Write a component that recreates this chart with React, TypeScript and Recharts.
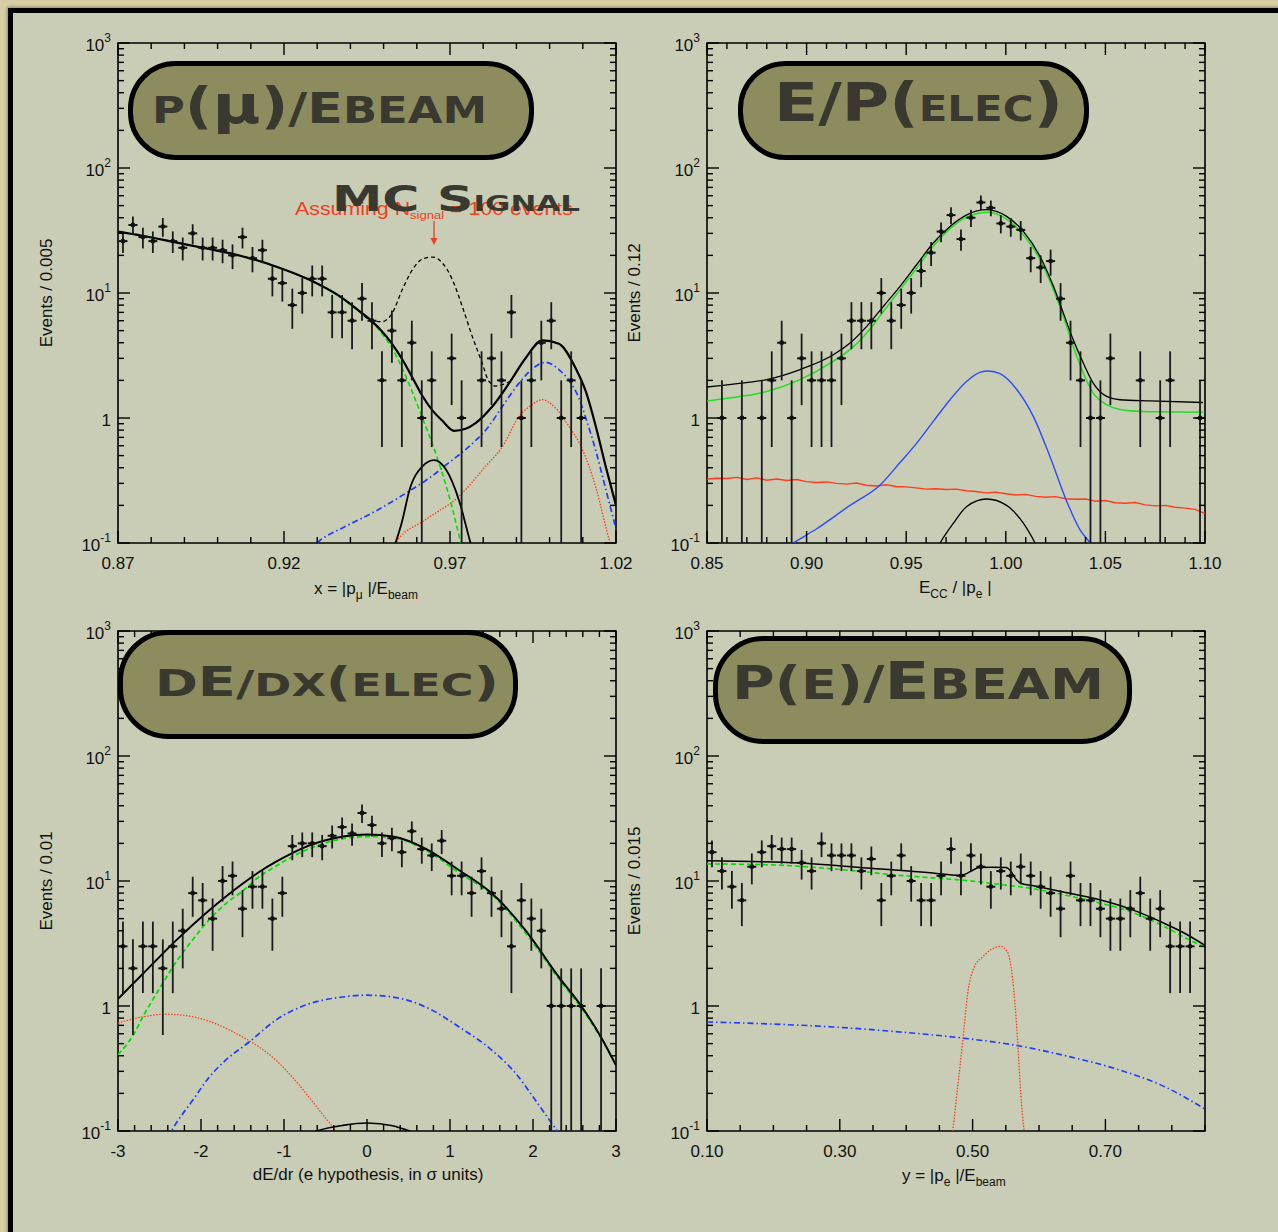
import React from 'react';
import { ComposedChart, Line, Scatter, ErrorBar, XAxis, YAxis, ReferenceArea } from 'recharts';

type Pt = [number, number];

// ---------- p(mu)/Ebeam ----------
const muRange = [0.87, 1.02];
const muCounts = [26, 35, 28, 26, 34, 26, 23, 30, 23, 23, 22, 20, 28, 19, 22, 13, 12, 8, 10, 13, 13, 7, 7, 6, 9, 6, 2, 5, 2, 4, 1, 2, 0, 3, 1, 0, 2, 3, 2, 7, 1, 2, 4, 6, 1, 2, 1, 0, 0, 0];
const muTotal: Pt[] = [[0.87, 31], [0.8773, 28.7], [0.8874, 25.4], [0.8974, 22.5], [0.9074, 19.7], [0.9175, 16.3], [0.9275, 12.8], [0.9376, 9.1], [0.9426, 7.2], [0.9466, 5.9], [0.9496, 4.9], [0.9526, 3.9], [0.9556, 2.95], [0.9587, 2.1], [0.9617, 1.5], [0.9647, 1.15], [0.9677, 0.95], [0.9712, 0.79], [0.9747, 0.82], [0.9777, 0.91], [0.9828, 1.24], [0.9878, 1.9], [0.9928, 3.02], [0.9978, 4.18], [1.0028, 3.93], [1.0078, 2.51], [1.0109, 1.63], [1.0139, 0.86], [1.0169, 0.41], [1.02, 0.2]];
const muWithMcSignal: Pt[] = [[0.9426, 7.2], [0.9466, 6.0], [0.9496, 5.9], [0.9526, 6.9], [0.9556, 10.6], [0.9587, 15.4], [0.9617, 18.7], [0.9647, 19.4], [0.9677, 17.4], [0.9707, 12.8], [0.9737, 7.8], [0.9767, 4.5], [0.9797, 2.75], [0.9817, 1.97], [0.9838, 1.8], [0.9858, 1.85], [0.9878, 1.95]];
const muGreen: Pt[] = [[0.87, 31], [0.8773, 28.7], [0.8874, 25.4], [0.8974, 22.5], [0.9074, 19.7], [0.9175, 16.3], [0.9275, 12.8], [0.9376, 9.0], [0.9426, 7.1], [0.9466, 5.8], [0.9496, 4.7], [0.9526, 3.6], [0.9556, 2.5], [0.9587, 1.6], [0.9617, 1.0], [0.9647, 0.62], [0.9677, 0.36], [0.9707, 0.19], [0.9727, 0.115], [0.9745, 0.075]];
const muBlue: Pt[] = [[0.927, 0.085], [0.931, 0.106], [0.9376, 0.132], [0.9476, 0.18], [0.9577, 0.26], [0.9637, 0.33], [0.9697, 0.44], [0.9757, 0.59], [0.9817, 0.86], [0.9858, 1.24], [0.9908, 1.9], [0.9958, 2.59], [0.9988, 2.79], [1.0028, 2.44], [1.0058, 2.0], [1.0088, 1.45], [1.0109, 1.0], [1.0139, 0.55], [1.0169, 0.27], [1.02, 0.13]];
const muRed: Pt[] = [[0.952, 0.085], [0.9536, 0.1], [0.9627, 0.154], [0.9727, 0.236], [0.9807, 0.41], [0.9858, 0.59], [0.9908, 1.03], [0.9948, 1.28], [0.9978, 1.4], [1.0018, 1.2], [1.0058, 0.86], [1.0099, 0.56], [1.0139, 0.28], [1.0179, 0.107], [1.019, 0.085]];
const muSignalFit: Pt[] = [[0.953, 0.09], [0.9556, 0.15], [0.9577, 0.26], [0.9617, 0.41], [0.9652, 0.46], [0.9687, 0.39], [0.9727, 0.22], [0.9762, 0.1], [0.977, 0.085]];
const muXMajor = [0.87, 0.92, 0.97, 1.02];
const muXLabels = ['0.87', '0.92', '0.97', '1.02'];

// ---------- E/p(elec) ----------
const epRange = [0.85, 1.1];
const epCounts = [0, 1, 0, 1, 0, 1, 2, 4, 1, 3, 2, 2, 2, 3, 6, 6, 6, 10, 6, 8, 10, 15, 21, 31, 42, 27, 40, 53, 48, 36, 34, 32, 19, 16, 18, 9, 4, 2, 1, 1, 3, 0, 0, 2, 0, 1, 2, 0, 0, 1];
const epTotal: Pt[] = [[0.85, 1.77], [0.8674, 1.9], [0.88, 2.03], [0.8967, 2.44], [0.9134, 3.21], [0.9218, 3.98], [0.9302, 5.41], [0.9385, 7.8], [0.9469, 11.3], [0.9553, 16.9], [0.9636, 25.1], [0.972, 34.1], [0.9804, 42.2], [0.9904, 46.4], [1.0004, 41], [1.0088, 31.1], [1.0172, 19.6], [1.0239, 11.3], [1.0289, 6.9], [1.0339, 4.2], [1.0389, 2.75], [1.0439, 1.9], [1.0506, 1.49], [1.0573, 1.4], [1.0724, 1.37], [1.099, 1.33]];
const epGreen: Pt[] = [[0.85, 1.37], [0.8674, 1.49], [0.88, 1.63], [0.8967, 2.03], [0.9134, 2.84], [0.9218, 3.52], [0.9302, 4.79], [0.9385, 7.1], [0.9469, 10.6], [0.9553, 15.8], [0.9636, 23.6], [0.972, 32.7], [0.9804, 40.5], [0.9912, 44.3], [1.0004, 39], [1.0088, 29.2], [1.0172, 18.5], [1.0239, 10.6], [1.0289, 6.5], [1.0339, 3.74], [1.0389, 2.29], [1.0439, 1.58], [1.0506, 1.28], [1.0573, 1.17], [1.0724, 1.12], [1.099, 1.11]];
const epBlue: Pt[] = [[0.888, 0.088], [0.8933, 0.1], [0.9051, 0.13], [0.9218, 0.2], [0.9368, 0.29], [0.9469, 0.44], [0.9553, 0.63], [0.9636, 0.94], [0.972, 1.4], [0.9804, 1.97], [0.987, 2.32], [0.9912, 2.38], [0.9971, 2.26], [1.0055, 1.69], [1.0138, 1.03], [1.0222, 0.49], [1.0306, 0.215], [1.0372, 0.128], [1.0423, 0.1], [1.045, 0.085]];
const epSignalFit: Pt[] = [[0.965, 0.088], [0.967, 0.1], [0.9737, 0.144], [0.9804, 0.196], [0.9904, 0.225], [1.0004, 0.2], [1.0088, 0.144], [1.0147, 0.1], [1.0165, 0.088]];
const epRed: Pt[] = [[0.85, 0.325], [0.855, 0.33], [0.86, 0.328], [0.865, 0.335], [0.87, 0.322], [0.875, 0.332], [0.88, 0.318], [0.885, 0.325], [0.89, 0.316], [0.895, 0.322], [0.9, 0.31], [0.905, 0.305], [0.91, 0.308], [0.915, 0.3], [0.92, 0.296], [0.925, 0.302], [0.93, 0.29], [0.935, 0.286], [0.94, 0.292], [0.945, 0.283], [0.95, 0.281], [0.955, 0.276], [0.96, 0.27], [0.965, 0.272], [0.97, 0.268], [0.975, 0.27], [0.98, 0.262], [0.985, 0.258], [0.99, 0.252], [0.995, 0.255], [1.0, 0.248], [1.005, 0.242], [1.01, 0.245], [1.015, 0.236], [1.02, 0.232], [1.025, 0.235], [1.03, 0.226], [1.035, 0.224], [1.04, 0.225], [1.045, 0.216], [1.05, 0.219], [1.055, 0.21], [1.06, 0.208], [1.065, 0.211], [1.07, 0.202], [1.075, 0.198], [1.08, 0.2], [1.085, 0.193], [1.09, 0.19], [1.095, 0.186], [1.1, 0.172]];
const epXMajor = [0.85, 0.9, 0.95, 1.0, 1.05, 1.1];
const epXLabels = ['0.85', '0.90', '0.95', '1.00', '1.05', '1.10'];

// ---------- dE/dx(elec) ----------
const dedxRange = [-3, 3];
const dedxCounts = [3, 2, 3, 3, 2, 3, 4, 8, 7, 5, 10, 11, 6, 9, 9, 5, 8, 19, 20, 20, 19, 23, 27, 24, 35, 28, 20, 22, 17, 25, 18, 16, 21, 11, 11, 8, 12, 8, 6, 3, 7, 5, 4, 1, 1, 1, 1, 0, 1, 0];
const dedxTotal: Pt[] = [[-3, 1.14], [-2.7, 1.81], [-2.3, 3.35], [-1.9, 5.83], [-1.5, 9.5], [-1.3, 11.8], [-1.1, 14.2], [-0.7, 19.2], [-0.29, 22.7], [0, 23.6], [0.31, 22.7], [0.71, 18.1], [1.11, 12.2], [1.51, 7.9], [1.91, 4.03], [2.31, 1.71], [2.59, 0.98], [2.83, 0.548], [3, 0.335]];
const dedxGreen: Pt[] = [[-3, 0.41], [-2.82, 0.58], [-2.7, 0.82], [-2.5, 1.38], [-2.3, 2.25], [-2.1, 3.39], [-1.9, 4.9], [-1.7, 6.6], [-1.5, 8.3], [-1.3, 10.8], [-1.1, 13.1], [-0.7, 18.1], [-0.29, 21.8], [0.03, 22.7], [0.31, 22.2], [0.71, 17.6], [1.11, 11.6], [1.51, 7.7], [1.91, 3.84], [2.31, 1.65], [2.59, 0.95], [2.83, 0.54], [3, 0.345]];
const dedxRed: Pt[] = [[-3, 0.73], [-2.7, 0.82], [-2.42, 0.86], [-2.1, 0.82], [-1.82, 0.72], [-1.5, 0.565], [-1.3, 0.47], [-1.1, 0.37], [-0.9, 0.27], [-0.7, 0.187], [-0.54, 0.137], [-0.38, 0.1], [-0.3, 0.082]];
const dedxBlue: Pt[] = [[-2.4, 0.088], [-2.34, 0.104], [-2.1, 0.176], [-1.9, 0.27], [-1.7, 0.37], [-1.42, 0.515], [-1.1, 0.77], [-0.7, 1.04], [-0.29, 1.18], [-0.01, 1.22], [0.31, 1.18], [0.71, 0.98], [1.11, 0.68], [1.51, 0.44], [1.79, 0.29], [2.03, 0.176], [2.23, 0.114], [2.29, 0.1], [2.33, 0.088]];
const dedxSignalFit: Pt[] = [[-0.7, 0.095], [-0.61, 0.1], [-0.29, 0.111], [0, 0.116], [0.31, 0.11], [0.51, 0.1], [0.6, 0.095]];
const dedxXMajor = [-3, -2, -1, 0, 1, 2, 3];
const dedxXLabels = ['-3', '-2', '-1', '0', '1', '2', '3'];

// ---------- p(e)/Ebeam ----------
const peRange = [0.1, 0.85];
const peCounts = [17, 12, 9, 7, 13, 17, 19, 18, 18, 14, 12, 20, 16, 16, 16, 12, 15, 7, 11, 16, 10, 7, 7, 11, 18, 11, 16, 13, 9, 12, 11, 13, 11, 9, 8, 6, 11, 7, 7, 6, 5, 5, 6, 8, 5, 6, 3, 3, 3, 0];
const peTotal: Pt[] = [[0.1, 14.5], [0.24, 13.9], [0.34, 12.7], [0.44, 11.6], [0.48, 11.1], [0.49, 11.4], [0.5, 12.2], [0.51, 12.8], [0.53, 12.9], [0.55, 12.8], [0.5575, 12.0], [0.565, 10.4], [0.5725, 9.6], [0.59, 9.2], [0.64, 8.1], [0.69, 7.1], [0.74, 5.9], [0.79, 4.55], [0.82, 3.8], [0.85, 3.05]];
const peGreen: Pt[] = [[0.1, 13.7], [0.19, 13.5], [0.24, 13.1], [0.29, 12.5], [0.34, 11.8], [0.39, 11.1], [0.44, 10.6], [0.49, 10.1], [0.54, 9.4], [0.59, 8.7], [0.64, 7.7], [0.69, 6.7], [0.74, 5.64], [0.79, 4.29], [0.82, 3.52], [0.85, 2.95]];
const peBlue: Pt[] = [[0.1, 0.745], [0.19, 0.72], [0.29, 0.68], [0.39, 0.62], [0.49, 0.55], [0.565, 0.485], [0.64, 0.4], [0.715, 0.315], [0.79, 0.225], [0.85, 0.15]];
const peRed: Pt[] = [[0.468, 0.085], [0.47, 0.1], [0.4775, 0.225], [0.485, 0.51], [0.4925, 1.25], [0.5025, 2.05], [0.515, 2.47], [0.53, 2.87], [0.5425, 3.0], [0.5525, 2.7], [0.56, 1.7], [0.5675, 0.565], [0.5725, 0.2], [0.5775, 0.1], [0.579, 0.085]];
const peXMajor = [0.1, 0.3, 0.5, 0.7];
const peXLabels = ['0.10', '0.30', '0.50', '0.70'];

const Y_DOMAIN = [0.1, 1000];
const Y_MAJOR = [0.1, 1, 10, 100, 1000];

// ---------- helpers ----------
const PLOT_W = 498;
const PLOT_H = 500;
const FONT = '"Liberation Sans", Arial, Helvetica, sans-serif';

const steps = (a: number, b: number, s: number) => {
  const out: number[] = [];
  for (let v = a; v <= b + 1e-9; v += s) out.push(+v.toFixed(4));
  return out;
};

const Y_TICKS = [...Y_MAJOR, ...Y_MAJOR.slice(0, 4).flatMap((d) => [2, 3, 4, 5, 6, 7, 8, 9].map((m) => +(m * d).toPrecision(3)))];

const toRows = (pts: Pt[]) => pts.map(([x, y]) => ({ x, y }));

const histRows = (range: number[], counts: number[]) => {
  const w = (range[1] - range[0]) / counts.length;
  return counts
    .map((n, i) => ({ x: range[0] + (i + 0.5) * w, y: n, err: [n - Math.max(n - Math.sqrt(n), 0.1), Math.sqrt(n)] }))
    .filter((r) => r.y > 0);
};

const DataMark = (p: any) => {
  const { cx, cy } = p;
  if (cx == null || cy == null) return null;
  return (
    <g>
      <line x1={cx - 4.5} x2={cx + 4.5} y1={cy} y2={cy} stroke="#111" strokeWidth={2} />
      <circle cx={cx} cy={cy} r={2.4} fill="#111" />
    </g>
  );
};

const YTick = (p: any) => {
  const { x, y, payload } = p;
  const e = Math.log10(payload.value);
  const major = Math.abs(e - Math.round(e)) < 1e-6;
  const len = major ? 12 : 6;
  const ex = Math.round(e);
  return (
    <g>
      <line x1={x} x2={x + len} y1={y} y2={y} stroke="#000" strokeWidth={1.4} />
      <line x1={x + PLOT_W} x2={x + PLOT_W - len} y1={y} y2={y} stroke="#000" strokeWidth={1.4} />
      {major && (
        <text x={x - 7} y={y + 8} textAnchor="end" fontSize={17} fill="#111" fontFamily={FONT}>
          {ex === 0 ? '1' : (
            <>
              <tspan>10</tspan>
              <tspan dy={-9} fontSize={12}>{ex}</tspan>
            </>
          )}
        </text>
      )}
    </g>
  );
};

const makeXTick = (majors: number[], labels: string[]) => (p: any) => {
  const { x, y, payload } = p;
  const idx = majors.findIndex((m) => Math.abs(m - payload.value) < 1e-6);
  const len = idx >= 0 ? 12 : 6;
  return (
    <g>
      <line x1={x} x2={x} y1={y} y2={y - len} stroke="#000" strokeWidth={1.4} />
      <line x1={x} x2={x} y1={y - PLOT_H} y2={y - PLOT_H + len} stroke="#000" strokeWidth={1.4} />
      {idx >= 0 && (
        <text x={x} y={y + 26} textAnchor="middle" fontSize={17} fill="#111" fontFamily={FONT}>
          {labels[idx]}
        </text>
      )}
    </g>
  );
};

interface Curve {
  data: Pt[];
  color: string;
  width: number;
  dash?: string;
  linear?: boolean;
}

interface PanelProps {
  left: number;
  top: number;
  range: number[];
  counts: number[];
  curves: Curve[];
  xMajor: number[];
  xLabels: string[];
  xMinorStep: number;
}

function Panel({ left, top, range, counts, curves, xMajor, xLabels, xMinorStep }: PanelProps) {
  const xTicks = steps(range[0], range[1], xMinorStep);
  return (
    <div style={{ position: 'absolute', left, top }}>
      <ComposedChart width={598} height={560} margin={{ top: 20, right: 20, bottom: 0, left: 0 }}>
        <XAxis
          type="number"
          dataKey="x"
          domain={range}
          allowDataOverflow
          ticks={xTicks}
          interval={0}
          tickLine={false}
          axisLine={false}
          tickSize={0}
          tickMargin={0}
          height={40}
          tick={makeXTick(xMajor, xLabels)}
        />
        <YAxis
          type="number"
          scale="log"
          domain={Y_DOMAIN}
          allowDataOverflow
          ticks={Y_TICKS}
          interval={0}
          tickLine={false}
          axisLine={false}
          tickSize={0}
          tickMargin={0}
          width={80}
          tick={YTick}
        />
        <ReferenceArea x1={range[0]} x2={range[1]} y1={Y_DOMAIN[0]} y2={Y_DOMAIN[1]} fill="none" stroke="#000" strokeWidth={1.6} fillOpacity={0} />
        {curves.map((c, i) => (
          <Line
            key={i}
            data={toRows(c.data)}
            dataKey="y"
            type={c.linear ? 'linear' : 'monotone'}
            stroke={c.color}
            strokeWidth={c.width}
            strokeDasharray={c.dash}
            dot={false}
            activeDot={false}
            isAnimationActive={false}
          />
        ))}
        <Scatter data={histRows(range, counts)} dataKey="y" shape={DataMark} isAnimationActive={false}>
          <ErrorBar dataKey="err" direction="y" width={0} stroke="#1a1a1a" strokeWidth={1.8} />
        </Scatter>
      </ComposedChart>
    </div>
  );
}

const BLACK = '#000';
const GREEN = '#00e000';
const BLUE = '#1e3cff';
const RED = '#ff3a1a';
const DASH = '5 3';
const DASHDOT = '6 3 1.5 3';
const DOT = '1.5 1.5';

export default function App() {
  const title = { fontFamily: '"DejaVu Sans", Verdana, sans-serif', fontWeight: 700, fill: '#3a3930' } as const;
  const box = { fill: '#8d8c5f', stroke: '#000', strokeWidth: 5 } as const;
  const axisTitle = { fontFamily: FONT, fontSize: 17, fill: '#111' } as const;
  return (
    <div style={{ position: 'relative', width: 1278, height: 1232, background: '#d8cea6', overflow: 'hidden', fontFamily: FONT }}>
      <style>{'body{margin:0}'}</style>
      <div
        style={{
          position: 'absolute', left: 8, top: 8, width: 1300, height: 1260,
          background: '#c9cdb6', borderTop: '5px solid #000', borderLeft: '5px solid #000',
          boxShadow: '-1px -1px 3px rgba(0,0,0,0.35)',
        }}
      />
      <Panel
        left={38} top={23} range={muRange} counts={muCounts}
        xMajor={muXMajor} xLabels={muXLabels} xMinorStep={0.01}
        curves={[
          { data: muBlue, color: BLUE, width: 1.7, dash: DASHDOT },
          { data: muRed, color: RED, width: 1.3, dash: DOT },
          { data: muGreen, color: GREEN, width: 1.6, dash: DASH },
          { data: muWithMcSignal, color: BLACK, width: 1.3, dash: '4 3' },
          { data: muSignalFit, color: BLACK, width: 1.8 },
          { data: muTotal, color: BLACK, width: 2.2 },
        ]}
      />
      <Panel
        left={627} top={23} range={epRange} counts={epCounts}
        xMajor={epXMajor} xLabels={epXLabels} xMinorStep={0.01}
        curves={[
          { data: epRed, color: '#ff3b1f', width: 1.4, linear: true },
          { data: epBlue, color: '#2a4bff', width: 1.4 },
          { data: epSignalFit, color: BLACK, width: 1.3 },
          { data: epGreen, color: '#1ee01e', width: 1.5 },
          { data: epTotal, color: BLACK, width: 1.3 },
        ]}
      />
      <Panel
        left={38} top={611} range={dedxRange} counts={dedxCounts}
        xMajor={dedxXMajor} xLabels={dedxXLabels} xMinorStep={0.2}
        curves={[
          { data: dedxRed, color: RED, width: 1.2, dash: DOT },
          { data: dedxBlue, color: BLUE, width: 1.7, dash: DASHDOT },
          { data: dedxSignalFit, color: BLACK, width: 1.6 },
          { data: dedxGreen, color: GREEN, width: 1.8, dash: DASH },
          { data: dedxTotal, color: BLACK, width: 2 },
        ]}
      />
      <Panel
        left={627} top={611} range={peRange} counts={peCounts}
        xMajor={peXMajor} xLabels={peXLabels} xMinorStep={0.05}
        curves={[
          { data: peBlue, color: BLUE, width: 1.6, dash: DASHDOT },
          { data: peRed, color: RED, width: 1.3, dash: DOT },
          { data: peGreen, color: GREEN, width: 1.6, dash: DASH },
          { data: peTotal, color: BLACK, width: 1.5 },
        ]}
      />
      <svg width={1278} height={1232} style={{ position: 'absolute', left: 0, top: 0, pointerEvents: 'none' }}>
        {/* axis titles */}
        <text transform="translate(46,293) rotate(-90)" textAnchor="middle" dominantBaseline="central" {...axisTitle}>Events / 0.005</text>
        <text transform="translate(634,293) rotate(-90)" textAnchor="middle" dominantBaseline="central" {...axisTitle}>Events / 0.12</text>
        <text transform="translate(46,881) rotate(-90)" textAnchor="middle" dominantBaseline="central" {...axisTitle}>Events / 0.01</text>
        <text transform="translate(634,881) rotate(-90)" textAnchor="middle" dominantBaseline="central" {...axisTitle}>Events / 0.015</text>

        <text x={314} y={594} {...axisTitle}>
          x = |p<tspan fontSize={12} dy={5}>μ</tspan><tspan dy={-5}> |/E</tspan><tspan fontSize={12} dy={5}>beam</tspan>
        </text>
        <text x={919} y={593} {...axisTitle}>
          E<tspan fontSize={12} dy={5}>CC</tspan><tspan dy={-5}> / |p</tspan><tspan fontSize={12} dy={5}>e</tspan><tspan dy={-5}> |</tspan>
        </text>
        <text x={368} y={1180} textAnchor="middle" {...axisTitle}>dE/dr (e hypothesis, in σ units)</text>
        <text x={902} y={1181} {...axisTitle}>
          y = |p<tspan fontSize={12} dy={5}>e</tspan><tspan dy={-5}> |/E</tspan><tspan fontSize={12} dy={5}>beam</tspan>
        </text>

        {/* MC signal annotation */}
        <text x={295} y={215} textLength={278} lengthAdjust="spacingAndGlyphs" fontFamily={FONT} fontSize={18} fill="#f0401e">
          Assuming N<tspan fontSize={11} dy={4}>signal</tspan><tspan dy={-4}> = 100 events</tspan>
        </text>
        <line x1={434} x2={434} y1={221} y2={240} stroke="#f0401e" strokeWidth={1.3} />
        <polygon points="430.5,238 437.5,238 434,245" fill="#f0401e" />
        <text x={332} y={211} textLength={248} lengthAdjust="spacingAndGlyphs" {...title}>
          <tspan fontSize={36}>MC S</tspan><tspan fontSize={22}>IGNAL</tspan>
        </text>

        {/* title boxes */}
        <rect x={130.5} y={63.5} width={401} height={94} rx={45} {...box} />
        <text x={152} y={123} textLength={335} lengthAdjust="spacingAndGlyphs" {...title}>
          <tspan fontSize={37}>P</tspan><tspan fontSize={50}>(</tspan><tspan fontSize={54}>μ</tspan><tspan fontSize={50}>)</tspan><tspan fontSize={43}>/E</tspan><tspan fontSize={37}>BEAM</tspan>
        </text>

        <rect x={740.5} y={63.5} width={346} height={94} rx={45} {...box} />
        <text x={774} y={121} textLength={289} lengthAdjust="spacingAndGlyphs" {...title}>
          <tspan fontSize={54}>E/P(</tspan><tspan fontSize={35}>ELEC</tspan><tspan fontSize={54}>)</tspan>
        </text>

        <rect x={120.5} y={632.5} width={395} height={104} rx={48} {...box} />
        <text x={155} y={696} textLength={344} lengthAdjust="spacingAndGlyphs" {...title}>
          <tspan fontSize={37}>D</tspan><tspan fontSize={40}>E</tspan><tspan fontSize={36}>/</tspan><tspan fontSize={32}>DX</tspan><tspan fontSize={40}>(</tspan><tspan fontSize={32}>ELEC</tspan><tspan fontSize={40}>)</tspan>
        </text>

        <rect x={715.5} y={638.5} width={414} height={103} rx={48} {...box} />
        <text x={732} y={699} textLength={372} lengthAdjust="spacingAndGlyphs" {...title}>
          <tspan fontSize={46}>P(</tspan><tspan fontSize={41}>E</tspan><tspan fontSize={46}>)/</tspan><tspan fontSize={52}>E</tspan><tspan fontSize={43}>BEAM</tspan>
        </text>
      </svg>
    </div>
  );
}
